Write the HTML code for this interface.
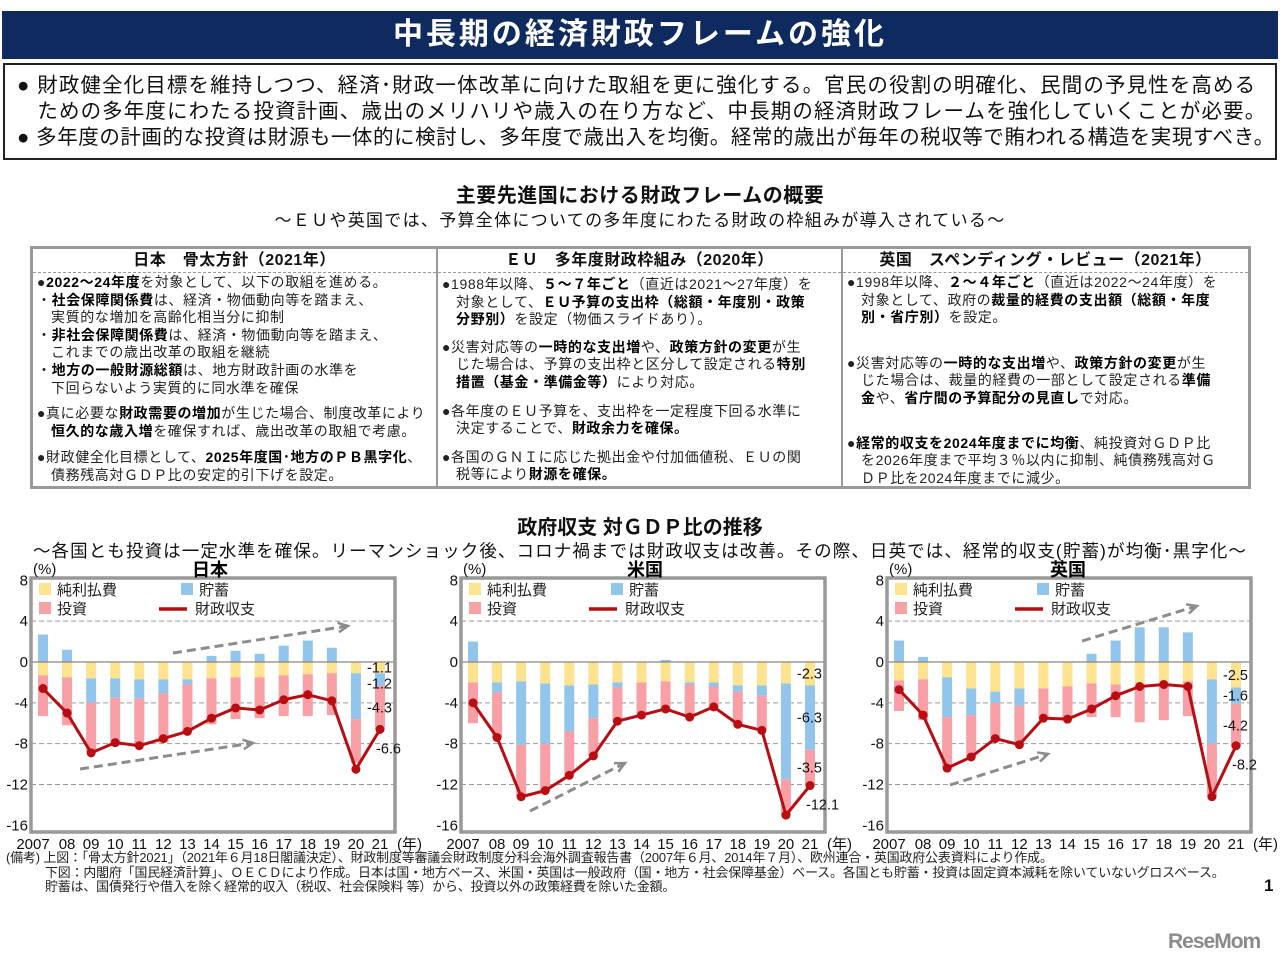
<!DOCTYPE html>
<html lang="ja"><head><meta charset="utf-8">
<style>
*{margin:0;padding:0;box-sizing:border-box}
body{width:1280px;height:968px;background:#fff;position:relative;overflow:hidden;font-family:"Liberation Sans","Noto Sans CJK JP",sans-serif;color:#111}
.abs{position:absolute}
#hdr{left:2px;top:11px;width:1276px;height:48px;background:#0e2a5f;color:#fff;font-size:30px;font-weight:bold;text-align:center;line-height:48px;letter-spacing:3px}
#lead{left:3px;top:63px;width:1274px;height:97px;border:2px solid #222;font-size:20.5px;line-height:26px;padding:8px 0 0 12px;white-space:nowrap;letter-spacing:1.1px;overflow:hidden}
#lead div{white-space:nowrap}
.sec{left:0;width:1280px;text-align:center;white-space:nowrap}
#boxes{left:30px;top:246px;width:1221px;height:243px;border:3px solid #999}
.col{position:absolute;top:0;height:237px}
.colh{height:24px;border-bottom:1.5px dashed #999;text-align:center;font-weight:bold;font-size:16px;line-height:24px;letter-spacing:0.5px}
.colb{font-size:14px;line-height:17.6px;padding-left:4px;white-space:nowrap;color:#222;letter-spacing:0.6px}
.colb p{margin:0}
.ind{padding-left:14px}
b{font-weight:bold;color:#000}
#foot{left:6px;top:851px;font-size:12.9px;line-height:14.5px;color:#222;white-space:nowrap;letter-spacing:-0.1px}
</style></head><body>
<div id="hdr" class="abs">中長期の経済財政フレームの強化</div>
<div id="lead" class="abs">
<div>● 財政健全化目標を維持しつつ、経済･財政一体改革に向けた取組を更に強化する。官民の役割の明確化、民間の予見性を高める</div>
<div>&nbsp;&nbsp;&nbsp;ための多年度にわたる投資計画、歳出のメリハリや歳入の在り方など、中長期の経済財政フレームを強化していくことが必要。</div>
<div style="letter-spacing:0.55px">● 多年度の計画的な投資は財源も一体的に検討し、多年度で歳出入を均衡。経常的歳出が毎年の税収等で賄われる構造を実現すべき。</div>
</div>
<div class="abs sec" style="top:179px;font-size:20px;font-weight:bold;letter-spacing:0.5px">主要先進国における財政フレームの概要</div>
<div class="abs sec" style="top:206px;font-size:17px;letter-spacing:1.3px">～ＥＵや英国では、予算全体についての多年度にわたる財政の枠組みが導入されている～</div>

<div id="boxes" class="abs">
 <div class="col" style="left:0;width:405px;border-right:2px solid #999">
  <div class="colh">日本　骨太方針（2021年）</div>
  <div class="colb">
   <p style="margin-top:1px">●<b>2022～24年度</b>を対象として、以下の取組を進める。</p>
   <p>・<b>社会保障関係費</b>は、経済・物価動向等を踏まえ、</p>
   <p class="ind">実質的な増加を高齢化相当分に抑制</p>
   <p>・<b>非社会保障関係費</b>は、経済・物価動向等を踏まえ、</p>
   <p class="ind">これまでの歳出改革の取組を継続</p>
   <p>・<b>地方の一般財源総額</b>は、地方財政計画の水準を</p>
   <p class="ind">下回らないよう実質的に同水準を確保</p>
   <p style="margin-top:8px">●真に必要な<b>財政需要の増加</b>が生じた場合、制度改革により</p>
   <p class="ind"><b>恒久的な歳入増</b>を確保すれば、歳出改革の取組で考慮。</p>
   <p style="margin-top:9px">●財政健全化目標として、<b>2025年度国･地方のＰＢ黒字化</b>、</p>
   <p class="ind">債務残高対ＧＤＰ比の安定的引下げを設定。</p>
  </div>
 </div>
 <div class="col" style="left:405px;width:405px;border-right:2px solid #999">
  <div class="colh">ＥＵ　多年度財政枠組み（2020年）</div>
  <div class="colb">
   <p style="margin-top:3px">●1988年以降、<b>５～７年ごと</b>（直近は2021～27年度）を</p>
   <p class="ind">対象として、<b>ＥＵ予算の支出枠（総額・年度別・政策</b></p>
   <p class="ind"><b>分野別）</b>を設定（物価スライドあり）。</p>
   <p style="margin-top:10px">●災害対応等の<b>一時的な支出増</b>や、<b>政策方針の変更</b>が生</p>
   <p class="ind">じた場合は、予算の支出枠と区分して設定される<b>特別</b></p>
   <p class="ind"><b>措置（基金・準備金等）</b>により対応。</p>
   <p style="margin-top:11px">●各年度のＥＵ予算を、支出枠を一定程度下回る水準に</p>
   <p class="ind">決定することで、<b>財政余力を確保。</b></p>
   <p style="margin-top:11px">●各国のＧＮＩに応じた拠出金や付加価値税、ＥＵの関</p>
   <p class="ind">税等により<b>財源を確保。</b></p>
  </div>
 </div>
 <div class="col" style="left:810px;width:405px">
  <div class="colh">英国　スペンディング・レビュー（2021年）</div>
  <div class="colb">
   <p style="margin-top:1px">●1998年以降、<b>２～４年ごと</b>（直近は2022～24年度）を</p>
   <p class="ind">対象として、政府の<b>裁量的経費の支出額（総額・年度</b></p>
   <p class="ind"><b>別・省庁別）</b>を設定。</p>
   <p style="margin-top:28px">●災害対応等の<b>一時的な支出増</b>や、<b>政策方針の変更</b>が生</p>
   <p class="ind">じた場合は、裁量的経費の一部として設定される<b>準備</b></p>
   <p class="ind"><b>金</b>や、<b>省庁間の予算配分の見直し</b>で対応。</p>
   <p style="margin-top:27px">●<b>経常的収支を2024年度までに均衡</b>、純投資対ＧＤＰ比</p>
   <p class="ind">を2026年度まで平均３％以内に抑制、純債務残高対Ｇ</p>
   <p class="ind">ＤＰ比を2024年度までに減少。</p>
  </div>
 </div>
</div>

<div class="abs sec" style="top:511px;font-size:20px;font-weight:bold">政府収支 対ＧＤＰ比の推移</div>
<div class="abs sec" style="top:538px;font-size:17.5px;letter-spacing:1.1px">～各国とも投資は一定水準を確保。リーマンショック後、コロナ禍までは財政収支は改善。その際、日英では、経常的収支(貯蓄)が均衡･黒字化～</div>

<svg id="charts" class="abs" style="left:0;top:0" width="1280" height="968"></svg>

<div id="foot" class="abs">
<div>(備考) 上図：「骨太方針2021」（2021年６月18日閣議決定）、財政制度等審議会財政制度分科会海外調査報告書（2007年６月、2014年７月）、欧州連合・英国政府公表資料により作成。</div>
<div style="padding-left:39px">下図：内閣府「国民経済計算」、ＯＥＣＤにより作成。日本は国・地方ベース、米国・英国は一般政府（国・地方・社会保障基金）ベース。各国とも貯蓄・投資は固定資本減耗を除いていないグロスベース。</div>
<div style="padding-left:39px">貯蓄は、国債発行や借入を除く経常的収入（税収、社会保険料 等）から、投資以外の政策経費を除いた金額。</div>
</div>
<div class="abs" style="left:1264px;top:876px;font-size:17px;font-weight:bold">1</div>
<div class="abs" style="left:1168px;top:930px;font-size:21px;font-weight:bold;color:#8a8a8a;letter-spacing:-1px">ReseMom</div>

<script>
const years = ["2007","08","09","10","11","12","13","14","15","16","17","18","19","20","21"];
const yTicks = [8,4,0,-4,-8,-12,-16];
// Japan
const jpInterest = [1.3,1.5,1.6,1.6,1.7,1.7,1.7,1.6,1.5,1.5,1.3,1.2,1.1,1.1,1.1];
const jpSaving = [2.7,1.2,-2.4,-1.9,-1.9,-1.4,-0.5,0.6,1.1,0.8,1.6,2.1,1.4,-4.5,-1.2];
const jpInvest = [4.0,4.7,4.8,4.3,4.6,4.8,4.6,4.5,4.1,4.0,4.0,4.1,4.1,4.3,4.3];
const jpBalance = [-2.6,-5.0,-8.9,-7.9,-8.2,-7.5,-6.8,-5.5,-4.5,-4.7,-3.7,-3.2,-3.8,-10.5,-6.6];
// United States
const usInterest = [2.0,2.0,1.9,2.1,2.3,2.2,2.0,2.0,1.9,2.0,2.0,2.3,2.3,2.1,2.3];
const usSaving = [2.0,-1.0,-6.2,-5.9,-4.5,-3.3,-0.5,0,0.2,-0.2,-0.4,-0.6,-1.0,-9.4,-6.3];
const usInvest = [4.0,4.4,5.1,4.6,4.3,3.7,3.3,3.2,2.9,3.2,2.0,3.2,3.4,3.5,3.5];
const usBalance = [-4.0,-7.4,-13.2,-12.6,-11.1,-9.2,-5.8,-5.2,-4.6,-5.4,-4.4,-6.1,-6.7,-15.0,-12.1];
// United Kingdom
const ukInterest = [1.8,1.7,1.5,2.6,2.9,2.6,2.6,2.4,2.1,2.2,2.4,2.1,1.9,1.7,2.5];
const ukSaving = [2.1,0.5,-3.9,-2.6,-1.1,-1.7,0,0,0.8,2.1,3.4,3.4,2.9,-6.3,-1.6];
const ukInvest = [3.0,4.0,5.0,4.1,3.5,3.8,2.9,3.2,3.3,3.2,3.5,3.6,3.4,5.2,4.2];
const ukBalance = [-2.7,-5.2,-10.4,-9.3,-7.5,-8.1,-5.5,-5.6,-4.6,-3.3,-2.4,-2.2,-2.4,-13.2,-8.2];

const NS="http://www.w3.org/2000/svg";
const svg=document.getElementById('charts');
function mk(tag,attrs,parent){const e=document.createElementNS(NS,tag);for(const k in attrs)e.setAttribute(k,attrs[k]);(parent||svg).appendChild(e);return e;}
const C={int:"#fde38f",sav:"#92c5ec",inv:"#f8a0a6",line:"#b80d12",grid:"#9a9a9a"};
const yScale=v=>662+(0-v)*(825-580)/24;

function drawChart(left,title,titleX,interest,saving,invest,balance,arrows,id){
  const right=left+364, top=578, bottom=832;
  const g=mk('g',{});
  
  
  const xScale=i=>left+12+i*(337/14);
  yTicks.forEach(t=>{
    if(t===0||t===8||t===-16)return;
    const gl=mk('line',{x1:left,x2:right,y1:yScale(t),y2:yScale(t),stroke:C.grid,'stroke-width':1,'stroke-dasharray':'5,3'},g);
    
    
  });
  years.forEach((y,i)=>{
    const cx=xScale(i), w=10;
    const iTop=0, iBot=-interest[i];
    const r1=mk('rect',{x:cx-w/2,y:yScale(iTop),width:w,height:yScale(iBot)-yScale(iTop),fill:C.int},g);
    
    
    let invTop=iBot;
    if(saving[i]>=0){
      const r2=mk('rect',{x:cx-w/2,y:yScale(saving[i]),width:w,height:yScale(0)-yScale(saving[i]),fill:C.sav},g);
      
      
    } else {
      const sb=iBot+saving[i];
      const r2=mk('rect',{x:cx-w/2,y:yScale(iBot),width:w,height:yScale(sb)-yScale(iBot),fill:C.sav},g);
      
      
      invTop=sb;
    }
    const ib=invTop-invest[i];
    const r3=mk('rect',{x:cx-w/2,y:yScale(invTop),width:w,height:yScale(ib)-yScale(invTop),fill:C.inv},g);
    
    
    const xl=mk('text',{x:i===0?cx-10:cx,y:849,'text-anchor':'middle','font-size':15,fill:'#111'},g);
    xl.textContent=y;
    
    
  });
  const z=mk('line',{x1:left,x2:right,y1:yScale(0),y2:yScale(0),stroke:'#888','stroke-width':1.2},g);
  
  
  const pts=balance.map((v,i)=>xScale(i)+','+yScale(v)).join(' ');
  const pl=mk('polyline',{points:pts,fill:'none',stroke:C.line,'stroke-width':3,'stroke-linejoin':'round'},g);
  
  
  balance.forEach((v,i)=>{
    const c=mk('circle',{cx:xScale(i),cy:yScale(v),r:4.5,fill:C.line},g);
    
    
  });
  arrows.forEach(a=>{
    const ln=mk('line',{x1:a[0],y1:a[1],x2:a[2],y2:a[3],stroke:'#8c8c8c','stroke-width':3,'stroke-dasharray':'9,5'},g);
    
    
    const ang=Math.atan2(a[3]-a[1],a[2]-a[0]);
    const p=(d,o)=>[a[2]-d*Math.cos(ang+o),a[3]-d*Math.sin(ang+o)];
    const h1=p(11,0.45),h2=p(11,-0.45);
    const hd=mk('polyline',{points:h1.join(',')+' '+a[2]+','+a[3]+' '+h2.join(','),fill:'none',stroke:'#8c8c8c','stroke-width':2.5},g);
    
    
  });
  const fr=mk('rect',{x:left,y:top,width:right-left,height:bottom-top,fill:'none',stroke:'#999','stroke-width':3.5},g);
  
  
  yTicks.forEach(t=>{
    const tl=mk('text',{x:left-3,y:yScale(t)+5,'text-anchor':'end','font-size':15,fill:'#111'},g);
    tl.textContent=t;
    
    
  });
  const pc=mk('text',{x:left+2,y:574,'font-size':15,fill:'#111'},g);
  pc.textContent='(%)';
  
  
  const yr=mk('text',{x:right+2,y:849,'font-size':15,fill:'#111'},g);
  yr.textContent='(年)';
  
  
  const tt=mk('text',{x:titleX,y:576,'text-anchor':'middle','font-size':18,'font-weight':'bold',fill:'#000'},g);
  tt.textContent=title;
  
  
  const lg=[[C.int,'純利払費',left+8,590],[C.sav,'貯蓄',left+150,590],[C.inv,'投資',left+8,609]];
  lg.forEach(l=>{
    const r=mk('rect',{x:l[2],y:l[3]-7,width:12,height:12,fill:l[0]},g);
    
    
    const tx=mk('text',{x:l[2]+18,y:l[3]+5,'font-size':15,fill:'#222'},g);
    tx.textContent=l[1];
    
    
  });
  const ll=mk('line',{x1:left+128,x2:left+156,y1:609,y2:609,stroke:C.line,'stroke-width':3.5},g);
  
  
  const lt=mk('text',{x:left+164,y:614,'font-size':15,fill:'#222'},g);
  lt.textContent='財政収支';
  
  
  const n=years.length-1, cx=xScale(n);
  const segs=[];
  const iv=-interest[n];
  segs.push([iv/2,interest[n]]);
  let base=iv;
  if(saving[n]<0){segs.push([iv+saving[n]/2,-saving[n]]);base=iv+saving[n];}
  else segs.push([saving[n]/2,saving[n]]);
  segs.push([base-invest[n]/2,invest[n]]);
  let prev=-1e9;
  segs.forEach(s=>{
    let y=yScale(s[0])+5; if(y<prev+16)y=prev+16; prev=y;
    const t=mk('text',{x:cx-13,y:y,'font-size':14.5,fill:'#111'},g);
    t.textContent='-'+s[1].toFixed(1);
    
    
  });
  const bt=mk('text',{x:cx-4,y:yScale(balance[n])+24,'font-size':14.5,fill:'#111'},g);
  bt.textContent=balance[n].toFixed(1);
  
  
}
drawChart(31,'日本',210,jpInterest,jpSaving,jpInvest,jpBalance,[[80,769,253,743],[173,653,348,626]],'japan');
drawChart(461,'米国',645,usInterest,usSaving,usInvest,usBalance,[[530,811,625,763]],'us');
drawChart(887,'英国',1068,ukInterest,ukSaving,ukInvest,ukBalance,[[950,785,1048,754],[1082,641,1197,606]],'uk');
</script>
</body></html>
